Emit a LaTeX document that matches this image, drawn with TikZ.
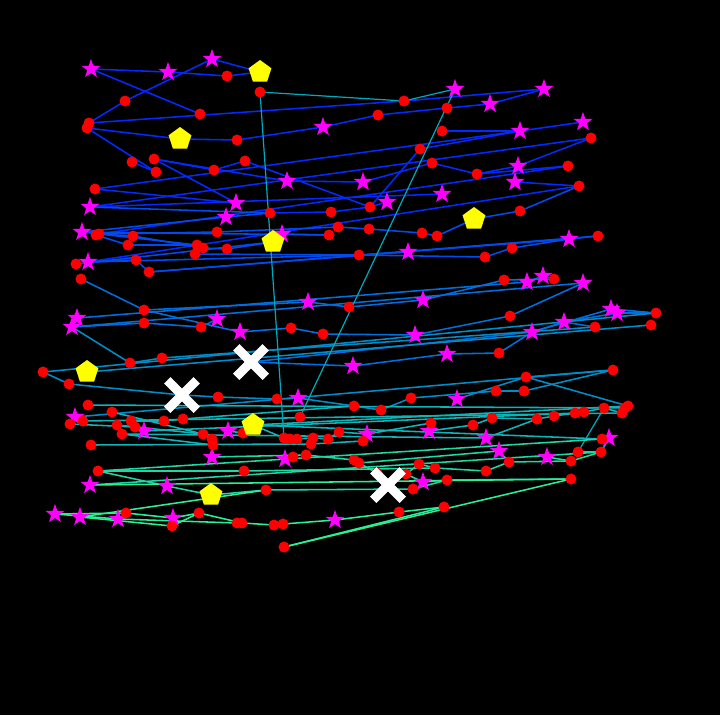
\documentclass[tikz,border=0pt]{standalone}
\usetikzlibrary{shapes.geometric,shapes.misc}
\definecolor{dotred}{RGB}{255,0,0}
\definecolor{starmag}{RGB}{255,0,255}
\definecolor{pentyel}{RGB}{255,255,0}
\definecolor{cA}{RGB}{5,40,255}
\definecolor{cB}{RGB}{0,75,240}
\definecolor{cC}{RGB}{0,110,222}
\definecolor{cD}{RGB}{0,140,200}
\definecolor{cE}{RGB}{15,180,185}
\definecolor{cF}{RGB}{30,215,165}
\definecolor{cG}{RGB}{40,240,150}
\definecolor{cT}{RGB}{0,170,190}
\pgfdeclarelayer{bg}
\pgfdeclarelayer{edges}
\pgfsetlayers{bg,edges,main}
\begin{document}
\begin{tikzpicture}[x=1pt,y=-1pt,
  dot/.style={circle,fill=dotred,inner sep=0pt,minimum size=11pt},
  starn/.style={star,star points=5,star point ratio=2.5,fill=starmag,inner sep=0pt,minimum size=20pt},
  penta/.style={regular polygon,regular polygon sides=5,fill=pentyel,inner sep=0pt,minimum size=24pt},
  crossx/.style={cross out,draw=white,line width=9pt,inner sep=0pt,minimum size=20.5pt},
  edge/.style={line width=1.55pt}]
\useasboundingbox (0,0) rectangle (720,715);
% stars
\foreach \n/\x/\y in {sA/91/69,sB/168/72,sC/212/59,sD/455/89,sE/490/104,sF/544/89,sG/323/127,sH/520/131,sI/583/122,sJ/287/181,sK/363/182,sL/518/166,sM/515/182,sN/442/194,sO/387/202,sP/236/203,sQ/90/207,sR/226/217,sS/82/232,sT/88/262,sU/282/234,sV/569/239,sW/408/252,sX/527/282,sY/543/276,sZ/583/283,
 t1/308/302,t2/423/300,t3/77/318,t4/72/327,t5/217/319,t6/240/332,t7/415/335,t8/611/309,t9/617/313,t10/564/322,t11/532/332,t12/447/354,t13/353/366,t14/298/398,t15/457/399,t16/75/417,t17/144/431,t18/228/431,t19/367/434,t20/429/431,t21/486/438,t22/609/438,t23/212/457,t24/285/459,t25/499/451,t26/547/457,t27/423/482,t28/90/485,t29/167/486,t30/55/514,t31/80/517,t32/118/519,t33/173/518,t34/335/520}
  \node[starn] (\n) at (\x,\y) {};
% dots
\foreach \n/\x/\y in {1/227/76,2/260/92,3/125/101,4/200/114,5/89/123,6/87/128,7/404/101,8/447/108,9/378/115,10/442/131,
 11/237/140,12/591/138,13/420/149,14/432/163,15/132/162,16/154/159,17/156/172,18/245/161,19/214/170,20/477/174,
 21/568/166,22/95/189,23/579/186,24/270/213,25/331/212,26/370/207,27/520/211,28/217/232,29/338/227,30/329/235,
 31/369/229,32/422/233,33/437/236,34/96/235,35/99/234,36/133/236,37/128/245,38/197/245,39/203/248,40/227/249,
 41/195/254,42/76/264,43/136/260,44/149/272,45/81/279,46/359/255,47/485/257,48/512/248,49/598/236,50/504/280,
 51/554/279,52/349/307,53/510/316,54/656/313,55/595/327,56/651/325,57/144/310,58/144/323,59/201/327,60/291/328,
 61/323/334,62/499/353,63/130/363,64/162/358,65/43/372,66/69/384,67/218/397,68/277/399,69/354/406,70/381/410,
 71/411/398,72/300/417,73/613/370,74/526/377,75/496/391,76/524/391,77/628/406,78/625/408,79/622/413,80/604/408,
 81/584/412,82/575/413,83/554/416,84/537/419,85/492/418,86/473/425,87/88/405,88/112/412,89/70/424,90/83/421,
 91/117/425,92/122/434,93/131/421,94/135/427,95/164/421,96/183/419,97/203/434,98/212/439,99/213/445,100/243/433,
 101/91/445,102/284/438,103/290/439,104/297/439,105/313/438,106/311/444,107/328/439,108/339/432,109/363/441,110/431/423,
 111/293/457,112/306/455,113/354/460,114/359/463,115/419/464,116/435/468,117/377/473,118/406/474,119/447/480,120/413/489,
 121/266/490,122/399/512,123/444/507,124/274/525,125/283/524,126/284/547,127/98/471,128/244/471,129/126/513,130/172/526,
 131/199/513,132/237/523,133/242/523,134/578/452,135/601/452,136/602/439,137/571/461,138/509/462,139/486/471,140/571/479}
  \node[dot] (d\n) at (\x,\y) {};
% pentagons
\foreach \n/\x/\y in {p1/260/72,p2/180/139,p3/474/219,p4/273/242,p5/87/372,p6/253/425,p7/211/495}
  \node[penta] (\n) at (\x,\y) {};
% crosses
\foreach \n/\x/\y in {x1/251/362,x2/182/395,x3/388/485}
  \node[crossx] (\n) at (\x,\y) {};
\begin{pgfonlayer}{bg}
  \fill[black] (0,0) rectangle (720,715);
\end{pgfonlayer}
\begin{pgfonlayer}{edges}
\foreach \a/\b in {sA/sB,sB/d1,d1/p1,sC/p1,sC/d3,d3/d5,sA/d4,d5/d7,d7/sF,d6/p2,p2/d11,d11/sG,sG/d9,d9/d8,d8/sE,sE/sF,d10/sH,sH/sI,d6/d17,d15/d17,d16/d19,d16/sP,d19/d18,d18/d26,d26/d13,sJ/d16,sJ/sK,sK/d14,d14/d20,d20/sL,sL/d12,d12/sQ,d20/d21,d22/sH,d13/sH,d35/d21,sT/d23,sM/d23,d22/sP,sQ/sN,d24/d25,d25/d26,d26/sO}
  \draw[edge,cA] (\a.center) -- (\b.center);
\foreach \a/\b in {sQ/d24,sS/sR,sS/d38,d34/d37,d37/d38,d35/d36,d36/d39,d39/d40,d40/p4,d41/d46,sT/d43,d43/d44,d44/d49,d42/p4,d28/d29,d29/d31,d31/d32,d32/d33,d33/p3,p3/d27,d27/d23,d30/sS,d46/sW,sT/d46,d46/d47,d47/d48,d48/sV,sV/d49,d44/sV,d35/d28,sR/d24,sU/d30}
  \draw[edge,cB] (\a.center) -- (\b.center);
\foreach \a/\b in {d45/d57,d57/t1,t1/d52,t3/sX,t4/d58,d58/d59,d59/t5,d57/t6,t6/d60,d60/d61,d61/t7,t7/d53,d53/sZ,t4/sZ,d50/d51,d51/sY,sY/sX,t2/d50,d52/t2,t8/d54,t9/d54,t8/t11,t10/t9,t10/d55,t11/t10,t11/d62,d62/t12,x1/t11,x1/t13,t13/t12}
  \draw[edge,cC] (\a.center) -- (\b.center);
\foreach \a/\b in {p5/d56,d65/d54,d64/d55,d63/d64,t4/d63,d65/d66,d66/x2,x2/d67,d67/d68,d68/t14,t14/d69,d69/d70,d70/d71,d71/d75,d75/d76,d76/d73,d74/d73,d74/t15,d74/d77,t16/d73}
  \draw[edge,cD] (\a.center) -- (\b.center);
\foreach \a/\b in {d87/d78,d88/d97,t16/d90,d89/d94,d94/t17,d93/d95,d95/d96,d96/d69,d101/d106,d97/d98,d98/d99,t18/d100,d100/p6,p6/d102,d102/d103,d103/d104,d104/d105,d105/d107,d107/d108,d108/t19,t19/d110,d110/t20,t20/d86,d86/d85,d85/d84,d84/d83,d83/d82,d82/d81,d81/d80,d80/d79,d90/d79,t17/d82,p6/d77,t21/d84,d92/t21,t22/d136,d136/p6,t22/d135,d109/d106,d91/d97,d92/d99}
  \draw[edge,cE] (\a.center) -- (\b.center);
\foreach \a/\b in {d2/d7,d7/sD,sD/d72,d2/d102,d80/d134}
  \draw[line width=1.2pt,cT] (\a.center) -- (\b.center);
\foreach \a/\b in {d134/d135,d135/d137,d137/t26,t23/d112,d111/t24,d112/d113,d113/d114,d114/d117,d117/x3,x3/d118,d118/d115,d115/d116,d116/d139,d139/d138,d138/d137,d127/d128,d128/d116,d127/t29,t29/p7,p7/d121,d121/d120,d120/d119,d119/d140,t27/d119,t27/d118,d127/d136,t28/d135,d114/t25,t25/d138}
  \draw[edge,cF] (\a.center) -- (\b.center);
\foreach \a/\b in {t28/d140,t30/d129,d129/t33,t30/t32,t31/d130,d130/d131,t32/d132,d132/d133,d133/d124,d124/d125,d125/t34,t34/d122,d122/d123,d123/d126,d126/d140,d131/d133,t33/d131,t31/d121}
  \draw[edge,cG] (\a.center) -- (\b.center);
\end{pgfonlayer}
\end{tikzpicture}
\end{document}
